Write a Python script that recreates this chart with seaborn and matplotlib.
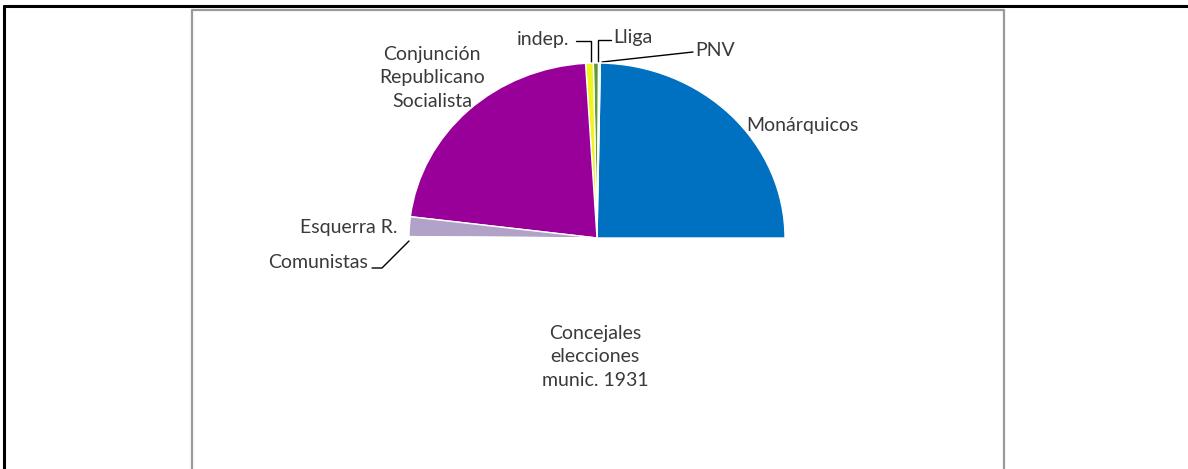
import matplotlib
matplotlib.use("Agg")
import matplotlib.pyplot as plt
import seaborn as sns

# Concejales, elecciones municipales 1931 (valores estimados del gráfico)
partidos = ["Monárquicos", "PNV", "Lliga", "indep.", "Conjunción\nRepublicano\nSocialista",
            "Esquerra R.", "Comunistas"]
concejales = [39500, 250, 700, 1050, 35300, 2900, 200]
colores = ["#0070C0", "#DDEFF5", "#5E9A3C", "#F2F21E", "#990099", "#B3A2C7", "#C9C0DA"]

sns.set_theme(style="white")
plt.rcParams["font.family"] = ["Lato", "DejaVu Sans"]

W, H = 1188, 469
fig = plt.figure(figsize=(W / 100, H / 100), dpi=100)

# fondo en coordenadas de pixel
bg = fig.add_axes([0, 0, 1, 1])
bg.set_xlim(0, W)
bg.set_ylim(H, 0)
bg.axis("off")
bg.plot([4, W], [6, 6], color="black", lw=2.2)
bg.plot([4, 4], [6, H], color="black", lw=2.2)
bg.plot([192, 192, 1004, 1004], [H, 10, 10, H], color="#9a9a9a", lw=1.6)

# semicirculo: se añade una porción invisible igual al total
cx, cy, rx, ry = 597, 238, 188, 175
ax = fig.add_axes([(cx - rx) / W, 1 - (cy + ry) / H, 2 * rx / W, 2 * ry / H])
valores = concejales + [sum(concejales)]
cols = colores + ["none"]
wedges, _ = ax.pie(valores, colors=cols, startangle=0, counterclock=True, radius=1,
                   wedgeprops=dict(edgecolor="white", linewidth=1))
wedges[-1].set_edgecolor("none")
ax.set_aspect("auto")
ax.set_xlim(-1, 1)
ax.set_ylim(-1, 1)

tk = dict(fontsize=14, color="#3a3a3a")
bg.text(746, 125, partidos[0], ha="left", va="center", **tk)
bg.text(695, 51, partidos[1], ha="left", va="center", **tk)
bg.plot([693, 602], [52, 62], color="black", lw=1)
bg.text(613, 37, partidos[2], ha="left", va="center", **tk)
bg.plot([611, 598, 598], [40, 40, 62], color="black", lw=1)
bg.text(543, 40, partidos[3], ha="center", va="center", **tk)
bg.plot([576, 591, 591], [41, 41, 62], color="black", lw=1)
bg.text(432, 78, partidos[4], ha="center", va="center", linespacing=1.45, **tk)
bg.text(398, 228, partidos[5], ha="right", va="center", **tk)
bg.text(368, 262, partidos[6], ha="right", va="center", **tk)
bg.plot([372, 382, 409], [268, 268, 241], color="black", lw=1)

bg.text(595, 357, "Concejales\nelecciones\nmunic. 1931", ha="center", va="center",
        linespacing=1.45, **tk)

fig.savefig("out.png", dpi=100)
